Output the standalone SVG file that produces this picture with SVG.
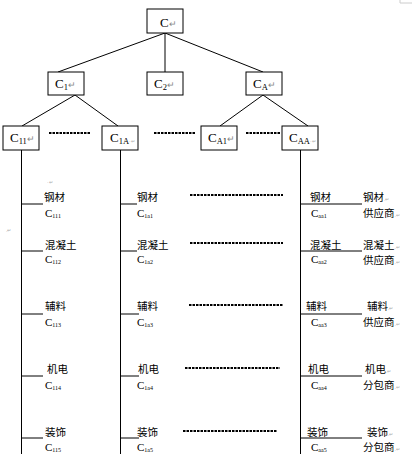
<svg xmlns="http://www.w3.org/2000/svg" width="412" height="466" viewBox="0 0 412 466">
<style>
.box{fill:#fff;stroke:#000;stroke-width:1}
.ln{stroke:#000;stroke-width:1;fill:none}
.dash{stroke:#000;stroke-width:1.8;stroke-dasharray:2.5 1;fill:none}
.t{font-family:"Liberation Serif",serif;font-size:13px;fill:#000}
.s{font-size:8.5px}
.r{font-family:"Liberation Sans",sans-serif;font-size:9px;fill:#888}
.cn{font-family:"Noto Sans CJK SC",sans-serif;font-size:10.5px;fill:#000}
.cs{font-family:"Liberation Serif",serif;font-size:11px;fill:#000}
.ss{font-size:6px}
.m{font-family:"Liberation Sans",sans-serif;font-size:5px;fill:#aaa}
</style>
<rect width="412" height="466" fill="#fff"/>
<path d="M400,0 V3 H412" stroke="#ccc" fill="none"/>
<g id="connectors">
<path class="ln" d="M165,33 L58,72 M165,33 V72 M165,33 L263,72"/>
<path class="ln" d="M75,95 L22,126 M75,95 L118,126 M263,95 L220,126 M263,95 L308,126"/>
<path class="ln" d="M21.5,150 V454 M120.5,150 V454 M300.5,150 V454"/>
<path class="dash" d="M49,133 H91 M154,133 H196 M246,133 H281"/>
<path class="dash" d="M190,195 H283 M190,243 H283 M189,305 H283 M185,368 H280 M183,431 H277"/>
<path class="ln" d="M22,204 H43 M22,251 H43 M22,314 H43 M22,376 H43 M22,438 H43"/>
<path class="ln" d="M120,204 H137 M120,251 H137 M120,314 H139 M120,376 H139 M120,438 H139"/>
<path class="ln" d="M300,204 H362 M300,251 H362 M300,314 H362 M300,376 H362 M300,438 H362"/>
</g>
<g id="C"><rect class="box" x="147" y="9" width="36" height="24"/><text class="t" x="160" y="27">C<tspan class="r">↵</tspan></text></g>
<g id="C1"><rect class="box" x="48" y="72" width="36" height="23"/><text class="t" x="55" y="88">C<tspan class="s" dy="2">1</tspan><tspan class="r" dy="-2">↵</tspan></text></g>
<g id="C2"><rect class="box" x="147" y="72" width="36" height="23"/><text class="t" x="154" y="88">C<tspan class="s" dy="2">2</tspan><tspan class="r" dy="-2">↵</tspan></text></g>
<g id="CA"><rect class="box" x="246" y="72" width="36" height="23"/><text class="t" x="253" y="88">C<tspan class="s" dy="2">A</tspan><tspan class="r" dy="-2">↵</tspan></text></g>
<g id="C11"><rect class="box" x="3" y="126" width="36" height="24"/><text class="t" x="10" y="142">C<tspan class="s" dy="2">11</tspan><tspan class="r" dy="-2">↵</tspan></text></g>
<g id="C1A"><rect class="box" x="102" y="126" width="36" height="24"/><text class="t" x="110" y="142">C<tspan class="s" dy="2">1A</tspan><tspan class="m" dy="-1">·↵</tspan></text></g>
<g id="CA1"><rect class="box" x="201" y="126" width="36" height="24"/><text class="t" x="208" y="142">C<tspan class="s" dy="2">A1</tspan><tspan class="r" dy="-2">↵</tspan></text></g>
<g id="CAA"><rect class="box" x="282" y="126" width="36" height="24"/><text class="t" x="289" y="142">C<tspan class="s" dy="2">AA</tspan><tspan class="m" dy="-1">·↵</tspan></text></g>
<g id="marks">
<text class="m" x="47" y="184">·↵</text>
<text class="m" x="6" y="232">.↵</text>
</g>
<g id="col1">
<text class="cn" x="44" y="201">钢材</text><text class="cs" x="45" y="217">C<tspan class="ss" dy="1">111</tspan></text>
<text class="cn" x="45" y="249">混凝土</text><text class="cs" x="45" y="263">C<tspan class="ss" dy="1">112</tspan></text>
<text class="cn" x="45" y="310">辅料</text><text class="cs" x="45" y="326">C<tspan class="ss" dy="1">113</tspan></text>
<text class="cn" x="47" y="373">机电</text><text class="cs" x="45" y="389">C<tspan class="ss" dy="1">114</tspan></text>
<text class="cn" x="45" y="436">装饰</text><text class="cs" x="45" y="451">C<tspan class="ss" dy="1">115</tspan></text>
</g>
<g id="col2">
<text class="cn" x="137" y="201">钢材</text><text class="cs" x="137" y="217">C<tspan class="ss" dy="1">1a1</tspan></text>
<text class="cn" x="137" y="249">混凝土</text><text class="cs" x="137" y="263">C<tspan class="ss" dy="1">1a2</tspan></text>
<text class="cn" x="137" y="310">辅料</text><text class="cs" x="137" y="326">C<tspan class="ss" dy="1">1a3</tspan></text>
<text class="cn" x="138" y="373">机电</text><text class="cs" x="137" y="389">C<tspan class="ss" dy="1">1a4</tspan></text>
<text class="cn" x="137" y="436">装饰</text><text class="cs" x="137" y="451">C<tspan class="ss" dy="1">1a5</tspan></text>
</g>
<g id="col3">
<text class="cn" x="310" y="201">钢材</text><text class="cs" x="311" y="217">C<tspan class="ss" dy="1">aa1</tspan></text>
<text class="cn" x="310" y="249">混凝土</text><text class="cs" x="311" y="263">C<tspan class="ss" dy="1">aa2</tspan></text>
<text class="cn" x="306" y="310">辅料</text><text class="cs" x="311" y="326">C<tspan class="ss" dy="1">aa3</tspan></text>
<text class="cn" x="308" y="373">机电</text><text class="cs" x="311" y="389">C<tspan class="ss" dy="1">aa4</tspan></text>
<text class="cn" x="307" y="436">装饰</text><text class="cs" x="311" y="451">C<tspan class="ss" dy="1">aa5</tspan></text>
</g>
<g id="suppliers">
<text class="cn" x="363" y="201">钢材<tspan class="m">.↵</tspan></text><text class="cn" x="363" y="217">供应商<tspan class="m">.↵</tspan></text>
<text class="cn" x="363" y="249">混凝土<tspan class="m">.↵</tspan></text><text class="cn" x="363" y="264">供应商<tspan class="m">.↵</tspan></text>
<text class="cn" x="367" y="310">辅料<tspan class="m">.↵</tspan></text><text class="cn" x="363" y="326">供应商<tspan class="m">.↵</tspan></text>
<text class="cn" x="365" y="373">机电<tspan class="m">.↵</tspan></text><text class="cn" x="363" y="389">分包商<tspan class="m">.↵</tspan></text>
<text class="cn" x="367" y="436">装饰<tspan class="m">.↵</tspan></text><text class="cn" x="363" y="451">分包商<tspan class="m">.↵</tspan></text>
</g>
</svg>
